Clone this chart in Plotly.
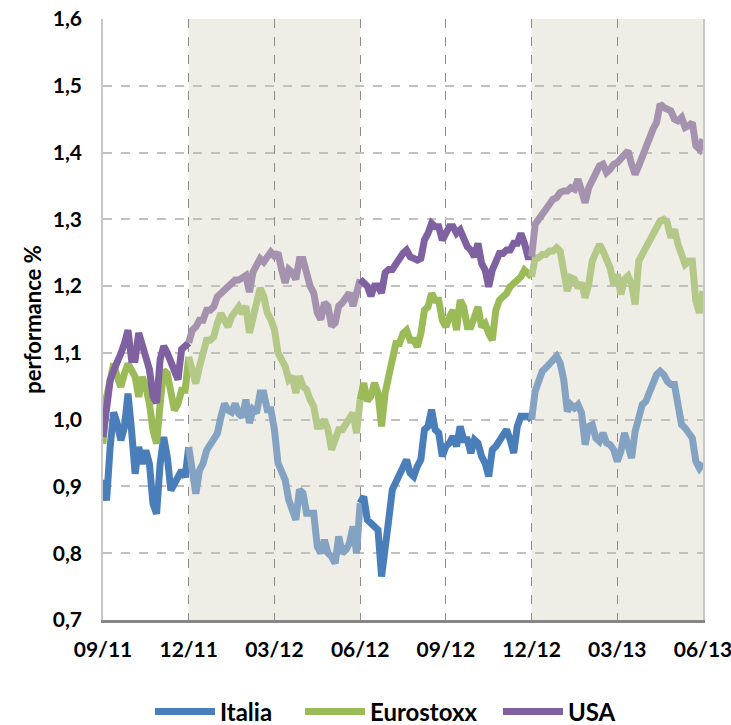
import plotly.graph_objects as go

# ---- data (months since 09/2011, one point per 1/8 month) ----
months = [k / 8 for k in range(169)]

tick_months = [0, 3, 6, 9, 12, 15, 18, 21]
tick_labels = ["09/11", "12/11", "03/12", "06/12", "09/12", "12/12", "03/13", "06/13"]

shaded_periods = [(3, 9), (15, 21)]
period_bounds = [0, 3, 9, 15, 21]

italia = [
    0.91, 0.879, 0.959, 1.011, 0.994, 0.969, 0.989, 1.039,
    0.984, 0.919, 0.959, 0.934, 0.954, 0.934, 0.874, 0.859,
    0.934, 0.974, 0.944, 0.894, 0.904, 0.914, 0.924, 0.914,
    0.959, 0.924, 0.889, 0.924, 0.934, 0.954, 0.964, 0.974,
    0.979, 1.004, 1.024, 1.014, 1.011, 1.024, 1.009, 1.004,
    1.03, 0.995, 1.015, 1.01, 1.04, 1.04, 1.015, 1.015,
    0.985, 0.935, 0.925, 0.91, 0.88, 0.865, 0.85, 0.895,
    0.89, 0.86, 0.86, 0.86, 0.81, 0.80, 0.82, 0.80,
    0.795, 0.785, 0.825, 0.80, 0.805, 0.815, 0.84, 0.80,
    0.875, 0.885, 0.85, 0.845, 0.84, 0.835, 0.765, 0.80,
    0.85, 0.895, 0.905, 0.915, 0.93, 0.94, 0.92, 0.915,
    0.93, 0.94, 0.985, 0.99, 1.015, 0.985, 0.98, 0.945,
    0.96, 0.965, 0.975, 0.96, 0.99, 0.97, 0.97, 0.95,
    0.97, 0.965, 0.945, 0.935, 0.915, 0.955, 0.96, 0.97,
    0.98, 0.985, 0.97, 0.95, 0.99, 1.005, 1.005, 1.005,
    1.0, 1.0425, 1.0575, 1.0725, 1.0775, 1.0825, 1.0875, 1.095,
    1.085, 1.06, 1.0125, 1.0225, 1.0175, 1.0225, 1.01, 0.9625,
    0.99, 0.9925, 0.9725, 0.9675, 0.98, 0.965, 0.9625, 0.955,
    0.9375, 0.9525, 0.98, 0.9625, 0.9425, 0.9825, 1.0075, 1.0225,
    1.0275, 1.0425, 1.0525, 1.0675, 1.0725, 1.0675, 1.0575, 1.0525,
    1.0525, 1.0225, 0.9925, 0.9875, 0.9775, 0.9725, 0.9375, 0.9275,
    0.935,
]

eurostoxx = [
    0.964, 1.034, 1.059, 1.084, 1.064, 1.049, 1.069, 1.084,
    1.074, 1.064, 1.034, 1.064, 1.049, 1.024, 0.984, 0.964,
    1.024, 1.074, 1.069, 1.044, 1.014, 1.024, 1.044, 1.044,
    1.094, 1.074, 1.054, 1.079, 1.104, 1.119, 1.119, 1.124,
    1.144, 1.159, 1.149, 1.139, 1.154, 1.164, 1.169, 1.159,
    1.17, 1.13, 1.155, 1.17, 1.197, 1.185, 1.16, 1.15,
    1.135, 1.10, 1.09, 1.08, 1.06, 1.065, 1.04, 1.065,
    1.05, 1.045, 1.03, 1.02, 0.99, 0.99, 1.0, 0.985,
    0.955, 0.975, 0.985, 0.985, 0.995, 1.0, 1.01, 0.98,
    1.03, 1.055, 1.028, 1.035, 1.055, 1.04, 0.99, 1.04,
    1.065, 1.09, 1.114, 1.114, 1.129, 1.134, 1.119, 1.119,
    1.109, 1.129, 1.164, 1.169, 1.189, 1.179, 1.179, 1.149,
    1.139, 1.154, 1.164, 1.134, 1.179, 1.169, 1.139, 1.139,
    1.159, 1.169, 1.139, 1.144, 1.129, 1.119, 1.164, 1.179,
    1.184, 1.189, 1.199, 1.204, 1.209, 1.214, 1.224, 1.219,
    1.214, 1.2425, 1.2425, 1.2475, 1.2475, 1.2525, 1.2525, 1.2575,
    1.2525, 1.2225, 1.1925, 1.2125, 1.21, 1.1975, 1.205, 1.1825,
    1.2025, 1.2375, 1.2525, 1.2625, 1.2525, 1.2425, 1.2275, 1.2025,
    1.2175, 1.1875, 1.21, 1.215, 1.2025, 1.1725, 1.2375, 1.2475,
    1.2575, 1.2725, 1.2825, 1.2875, 1.2975, 1.30, 1.295, 1.2725,
    1.285, 1.2625, 1.2425, 1.2325, 1.2375, 1.2375, 1.1775, 1.16,
    1.1925,
]

usa = [
    0.974, 1.024, 1.059, 1.074, 1.084, 1.099, 1.114, 1.134,
    1.09, 1.09, 1.13, 1.11, 1.085, 1.075, 1.035, 1.025,
    1.09, 1.11, 1.10, 1.085, 1.075, 1.06, 1.105, 1.11,
    1.115, 1.134, 1.139, 1.149, 1.149, 1.164, 1.164, 1.169,
    1.184, 1.189, 1.194, 1.2015, 1.204, 1.209, 1.209, 1.214,
    1.216, 1.191, 1.221, 1.231, 1.241, 1.236, 1.246, 1.251,
    1.245, 1.25, 1.225, 1.205, 1.225, 1.22, 1.21, 1.24,
    1.24, 1.215, 1.20, 1.19, 1.16, 1.15, 1.175, 1.17,
    1.14, 1.145, 1.17, 1.175, 1.185, 1.19, 1.17, 1.195,
    1.21, 1.205, 1.20, 1.185, 1.20, 1.20, 1.19, 1.22,
    1.225, 1.225, 1.234, 1.239, 1.249, 1.254, 1.244, 1.2415,
    1.239, 1.2415, 1.269, 1.279, 1.294, 1.289, 1.289, 1.269,
    1.279, 1.289, 1.289, 1.279, 1.284, 1.269, 1.259, 1.254,
    1.244, 1.264, 1.234, 1.224, 1.199, 1.224, 1.239, 1.249,
    1.249, 1.254, 1.254, 1.264, 1.264, 1.279, 1.264, 1.244,
    1.244, 1.2925, 1.30, 1.3075, 1.315, 1.325, 1.33, 1.3325,
    1.34, 1.3425, 1.3425, 1.3475, 1.345, 1.36, 1.34, 1.325,
    1.3475, 1.3575, 1.37, 1.38, 1.3825, 1.37, 1.375, 1.3825,
    1.385, 1.39, 1.395, 1.4025, 1.3825, 1.3675, 1.38, 1.395,
    1.4075, 1.4275, 1.435, 1.445, 1.4725, 1.4675, 1.465, 1.4625,
    1.45, 1.4475, 1.4525, 1.4375, 1.44, 1.445, 1.41, 1.405,
    1.42,
]

series_names = ["Italia", "Eurostoxx", "USA"]
series_values = [italia, eurostoxx, usa]
dark_colors = ["#4A7EBB", "#9BBB59", "#7F60A0"]
light_colors = ["#84A3C2", "#B4C888", "#A592AE"]
legend_ids = ["legend", "legend2", "legend3"]
legend_x = [0.0783, 0.3283, 0.6583]

fig = go.Figure()

for x0, x1 in shaded_periods:
    fig.add_shape(type="rect", xref="x", yref="paper", x0=x0, x1=x1, y0=0, y1=1,
                  fillcolor="#EEEEE6", line_width=0, layer="below")

for name, vals, dark, light, lid in zip(series_names, series_values, dark_colors,
                                        light_colors, legend_ids):
    first = True
    for lo, hi in zip(period_bounds[:-1], period_bounds[1:]):
        shaded = any(lo >= a and hi <= b for a, b in shaded_periods)
        xs = [m for m in months if lo <= m <= hi]
        ys = [v for m, v in zip(months, vals) if lo <= m <= hi]
        fig.add_trace(go.Scatter(
            x=xs, y=ys, mode="lines", name=name, legendgroup=name, legend=lid,
            showlegend=first and not shaded,
            line=dict(color=light if shaded else dark, width=7),
            hoverinfo="skip",
        ))
        if not shaded:
            first = False

legend_common = dict(orientation="h", xanchor="left", y=-0.153, yanchor="middle",
                     itemwidth=60, font=dict(family="Lato", size=24, weight="bold"),
                     bgcolor="rgba(0,0,0,0)")

fig.update_layout(
    width=731, height=725,
    margin=dict(l=103, r=28, t=19, b=105, autoexpand=False),
    plot_bgcolor="rgba(0,0,0,0)", paper_bgcolor="white",
    separators=",.",
    font=dict(family="Lato", size=21, color="black", weight="bold"),
    legend=dict(x=legend_x[0], **legend_common),
    legend2=dict(x=legend_x[1], **legend_common),
    legend3=dict(x=legend_x[2], **legend_common),
)

fig.update_xaxes(
    range=[0, 21], tickmode="array", tickvals=tick_months, ticktext=tick_labels,
    showgrid=True, gridcolor="#8C8C8C", griddash="dash", gridwidth=1,
    showline=True, linecolor="#868686", linewidth=2.5, automargin=False,
    ticks="", ticklabelstandoff=9, zeroline=False, ticklabeloverflow="allow",
    tickfont=dict(family="Lato", size=21, weight="bold"),
)
fig.update_yaxes(
    range=[0.7, 1.6], dtick=0.1, tick0=0.7, tickformat=".1f",
    showgrid=True, gridcolor="#C0C0C0", griddash="dash", gridwidth=1.5,
    showline=True, linecolor="#C8C8C8", linewidth=1.5, mirror=True, automargin=False,
    ticks="", ticklabelstandoff=15, zeroline=False, ticklabeloverflow="allow",
    tickfont=dict(family="Lato", size=21, weight="bold"),
)

fig.add_annotation(
    text="performance %", xref="paper", yref="paper", x=-0.118, y=0.5,
    xanchor="center", yanchor="middle", textangle=-90, showarrow=False,
    font=dict(family="Lato", size=22, weight="bold", color="black"),
)

fig.write_html("out.html", config={"displayModeBar": False},
               post_script="document.body.style.margin='0';")
